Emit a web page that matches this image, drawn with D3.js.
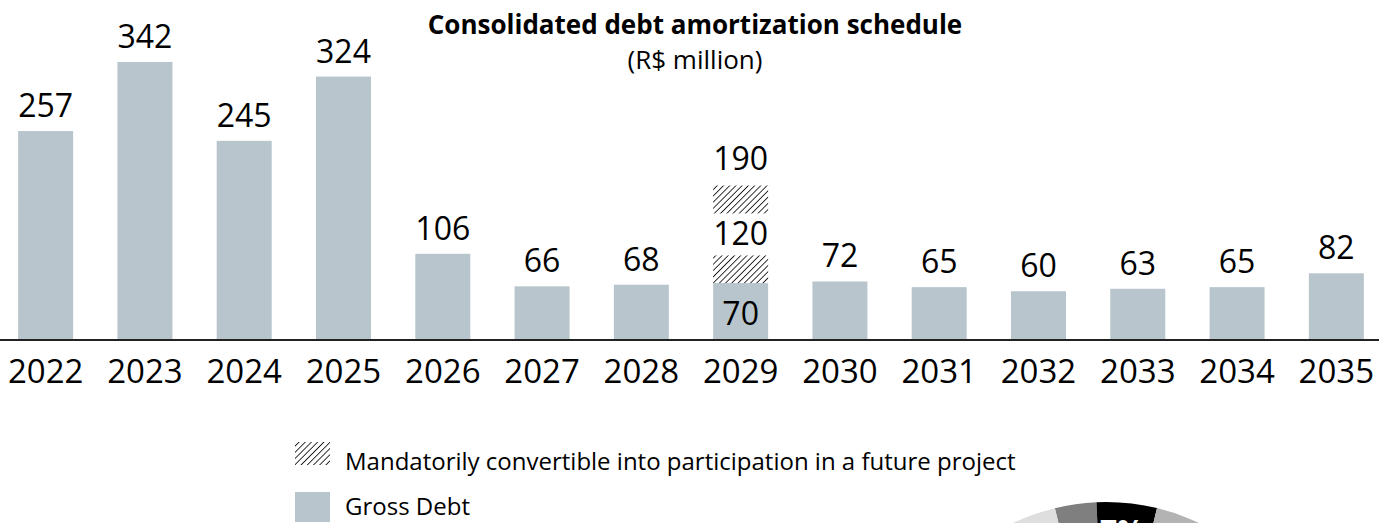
<!DOCTYPE html>
<html>
<head>
<meta charset="utf-8">
<script src="https://d3js.org/d3.v7.min.js"></script>
<style>
    body { margin: 0; background: #fff; }
    svg { display: block; font-family: "Open Sans", sans-serif; }
    .value { font-size: 32px; text-anchor: middle; fill: #000; }
    .year { font-size: 33px; text-anchor: middle; fill: #000; }
    .legend text { font-size: 24px; fill: #000; }
</style>
</head>
<body>
<script>
    // data
    const years = ['2022', '2023', '2024', '2025', '2026', '2027', '2028', '2029', '2030', '2031', '2032', '2033', '2034', '2035'];
    const grossDebt = [257, 342, 245, 324, 106, 66, 68, 70, 72, 65, 60, 63, 65, 82];
    const convertibleYear = '2029';
    const convertibleTranches = [50, 70];   // stacked on top of gross debt
    const legendLabels = ['Mandatorily convertible into participation in a future project', 'Gross Debt'];
    const donutShares = [3.1, 4.5, 40, 52.4];   // partial pie cut off at the bottom edge
    const donutLabels = ['', '7%', '', ''];

    const width = 1379, height = 523;
    const baseY = 340;
    const barColor = '#b8c5cc';

    const svg = d3.select('body').append('svg')
        .attr('width', width)
        .attr('height', height);

    const defs = svg.append('defs');
    defs.append('pattern')
        .attr('id', 'hatch')
        .attr('patternUnits', 'userSpaceOnUse')
        .attr('width', 4.4).attr('height', 4.4)
        .attr('patternTransform', 'rotate(45)')
      .append('line')
        .attr('x1', 0).attr('y1', 0).attr('x2', 0).attr('y2', 4.4)
        .attr('stroke', '#000').attr('stroke-width', 1.6);

    const x = d3.scaleBand()
        .domain(years)
        .range([-4, 1386])
        .paddingInner(0.446)
        .paddingOuter(0.223);

    const y = d3.scaleLinear()
        .domain([0, 400])
        .range([baseY, baseY - 325.2]);

    // title
    svg.append('text')
        .attr('x', 695).attr('y', 34)
        .attr('text-anchor', 'middle')
        .style('font-size', '26px').style('font-weight', 'bold')
        .text('Consolidated debt amortization schedule');
    svg.append('text')
        .attr('x', 695).attr('y', 69)
        .attr('text-anchor', 'middle')
        .style('font-size', '26px')
        .text('(R$ million)');

    // gross debt bars
    const bars = years.map((yr, i) => ({ year: yr, value: grossDebt[i] }));

    svg.selectAll('rect.bar')
        .data(bars)
        .join('rect')
        .attr('class', 'bar')
        .attr('x', d => x(d.year))
        .attr('width', x.bandwidth())
        .attr('y', d => y(d.value))
        .attr('height', d => y(0) - y(d.value))
        .attr('fill', barColor);

    svg.selectAll('text.bar-label')
        .data(bars.filter(d => d.year !== convertibleYear))
        .join('text')
        .attr('class', 'value bar-label')
        .attr('x', d => x(d.year) + x.bandwidth() / 2)
        .attr('y', d => y(d.value) - 14)
        .text(d => d.value);

    // convertible stack for 2029
    const base = grossDebt[years.indexOf(convertibleYear)];
    let acc = base;
    const stack = convertibleTranches.map(v => {
        const seg = { y0: acc, y1: acc + v };
        acc += v;
        return seg;
    });

    svg.selectAll('rect.hatch')
        .data(stack)
        .join('rect')
        .attr('class', 'hatch')
        .attr('x', x(convertibleYear))
        .attr('width', x.bandwidth())
        .attr('y', d => y(d.y1))
        .attr('height', d => y(d.y0) - y(d.y1))
        .attr('fill', 'url(#hatch)');

    const cx = x(convertibleYear) + x.bandwidth() / 2;

    // gross part label inside bar
    svg.append('text')
        .attr('class', 'value')
        .attr('x', cx).attr('y', y(base / 2) + 13)
        .text(base);

    // intermediate total with white box
    const midTotal = stack[0].y1;
    const midBase = y(midTotal) + 3;
    svg.append('rect')
        .attr('x', x(convertibleYear) - 1)
        .attr('width', x.bandwidth() + 2)
        .attr('y', midBase - 32)
        .attr('height', 42)
        .attr('fill', '#fff');
    svg.append('text')
        .attr('class', 'value')
        .attr('x', cx).attr('y', midBase)
        .text(midTotal);

    // final total
    svg.append('text')
        .attr('class', 'value')
        .attr('x', cx).attr('y', y(acc) - 16)
        .text(acc);

    // baseline axis
    svg.append('line')
        .attr('x1', 0).attr('x2', width)
        .attr('y1', baseY).attr('y2', baseY)
        .attr('stroke', '#222').attr('stroke-width', 2);

    svg.selectAll('text.year')
        .data(years)
        .join('text')
        .attr('class', 'year')
        .attr('x', d => x(d) + x.bandwidth() / 2)
        .attr('y', 383)
        .text(d => d);

    // legend
    const legend = svg.append('g').attr('class', 'legend');
    const legendRows = [
        { label: legendLabels[0], fill: 'url(#hatch)', y: 442, h: 23, ty: 470 },
        { label: legendLabels[1], fill: barColor, y: 492, h: 30, ty: 515 }
    ];
    legend.selectAll('rect')
        .data(legendRows)
        .join('rect')
        .attr('x', 295).attr('width', 35)
        .attr('y', d => d.y).attr('height', d => d.h)
        .attr('fill', d => d.fill);
    legend.selectAll('text')
        .data(legendRows)
        .join('text')
        .attr('x', 345).attr('y', d => d.ty)
        .text(d => d.label);

    // partial donut in the corner
    const donutColors = ['#7f7f7f', '#000000', '#b3b3b3', '#dedede'];
    const r = 216;
    const pie = d3.pie().sort(null).startAngle(-0.239).endAngle(-0.239 + 2 * Math.PI);
    const arc = d3.arc().innerRadius(r * 0.55).outerRadius(r);
    const donut = svg.append('g').attr('transform', 'translate(1106,718)');
    const arcs = pie(donutShares);
    donut.selectAll('path')
        .data(arcs)
        .join('path')
        .attr('d', arc)
        .attr('fill', (d, i) => donutColors[i]);
    donut.selectAll('text')
        .data(arcs.filter((d, i) => donutLabels[i]))
        .join('text')
        .attr('x', 16).attr('y', -r + 40)
        .attr('text-anchor', 'middle')
        .style('font-size', '30px').style('font-weight', 'bold')
        .attr('fill', '#fff')
        .text((d) => donutLabels[d.index]);
</script>
</body>
</html>
